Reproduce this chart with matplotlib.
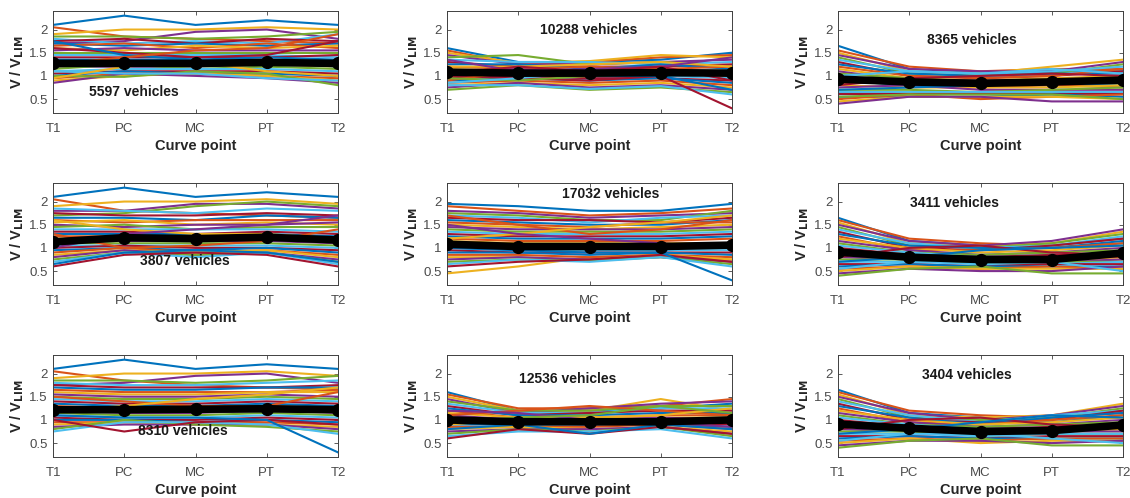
import matplotlib
matplotlib.use("Agg")
import matplotlib.pyplot as plt

plt.rcParams['font.family'] = ['Liberation Sans', 'DejaVu Sans']

points = ["T1", "PC", "MC", "PT", "T2"]
counts = ["5597 vehicles", "10288 vehicles", "8365 vehicles",
          "3807 vehicles", "17032 vehicles", "3411 vehicles",
          "8310 vehicles", "12536 vehicles", "3404 vehicles"]

mean_1 = [1.27, 1.27, 1.27, 1.29, 1.27]
mean_2 = [1.08, 1.06, 1.06, 1.07, 1.06]
mean_3 = [0.93, 0.87, 0.84, 0.87, 0.91]
mean_4 = [1.13, 1.22, 1.20, 1.23, 1.17]
mean_5 = [1.08, 1.03, 1.03, 1.03, 1.06]
mean_6 = [0.91, 0.80, 0.75, 0.75, 0.89]
mean_7 = [1.22, 1.22, 1.23, 1.24, 1.22]
mean_8 = [1.00, 0.96, 0.96, 0.96, 1.00]
mean_9 = [0.91, 0.82, 0.75, 0.77, 0.89]

veh_1 = [
    [2.10, 2.30, 2.10, 2.20, 2.10], [2.05, 1.85, 1.80, 1.75, 1.70], [1.90, 2.00, 2.00, 2.05, 2.00],
    [1.70, 1.75, 1.95, 2.00, 1.80], [1.85, 1.85, 1.80, 1.85, 1.95], [1.80, 1.70, 1.75, 1.70, 1.90],
    [1.75, 1.80, 1.70, 1.80, 1.75], [1.70, 1.65, 1.70, 1.65, 1.70], [1.65, 1.70, 1.60, 1.70, 1.60],
    [1.60, 1.55, 1.65, 1.60, 1.65], [1.55, 1.60, 1.55, 1.55, 1.55], [1.50, 1.50, 1.50, 1.50, 1.50],
    [1.45, 1.45, 1.45, 1.45, 1.40], [1.40, 1.40, 1.40, 1.40, 1.45], [1.35, 1.35, 1.35, 1.40, 1.35],
    [1.30, 1.30, 1.30, 1.30, 1.30], [1.25, 1.30, 1.25, 1.25, 1.20], [1.20, 1.20, 1.20, 1.25, 1.25],
    [1.15, 1.25, 1.15, 1.20, 1.15], [1.10, 1.15, 1.15, 1.15, 1.10], [1.05, 1.10, 1.10, 1.10, 1.05],
    [1.00, 1.10, 1.05, 1.05, 1.00], [0.95, 1.05, 1.05, 1.00, 0.95], [0.90, 1.00, 1.05, 1.00, 0.90],
    [0.85, 1.05, 1.00, 0.95, 0.85], [1.00, 0.98, 1.10, 1.05, 0.80], [1.10, 1.05, 1.05, 0.95, 0.90],
    [1.60, 1.50, 1.40, 1.45, 1.75], [1.75, 1.45, 1.35, 1.30, 1.20], [1.25, 1.40, 1.55, 1.60, 1.90],
    [0.95, 1.20, 1.30, 1.10, 1.00],
]
veh_2 = [
    [1.60, 1.30, 1.30, 1.35, 1.50], [1.55, 1.25, 1.30, 1.40, 1.45], [1.50, 1.28, 1.32, 1.45, 1.40],
    [1.45, 1.25, 1.25, 1.30, 1.35], [1.40, 1.45, 1.25, 1.30, 1.20], [1.35, 1.30, 1.30, 1.25, 1.30],
    [1.30, 1.20, 1.20, 1.20, 1.25], [1.25, 1.25, 1.15, 1.25, 1.15], [1.20, 1.15, 1.20, 1.15, 1.20],
    [1.15, 1.10, 1.10, 1.10, 1.10], [1.10, 1.15, 1.05, 1.10, 1.05], [1.05, 1.05, 1.00, 1.05, 1.00],
    [1.00, 1.00, 0.95, 1.00, 0.95], [0.95, 1.00, 0.95, 0.95, 0.90], [0.90, 0.95, 0.90, 0.95, 0.85],
    [0.85, 0.90, 0.85, 0.90, 0.80], [0.80, 0.85, 0.80, 0.85, 0.75], [0.75, 0.85, 0.75, 0.80, 0.70],
    [0.70, 0.80, 0.70, 0.75, 0.65], [0.80, 0.80, 0.72, 0.78, 0.60], [1.00, 0.95, 0.90, 1.00, 0.30],
    [1.10, 1.05, 1.00, 1.00, 0.70], [0.90, 1.10, 1.05, 1.10, 1.00], [1.20, 1.20, 1.25, 1.30, 1.20],
    [1.35, 1.10, 1.15, 1.20, 1.40], [0.95, 0.90, 1.00, 1.05, 1.10], [0.85, 0.95, 1.10, 1.05, 1.05],
    [1.05, 1.20, 1.10, 1.20, 0.90],
]
veh_3 = [
    [1.65, 1.15, 1.05, 1.10, 1.10], [1.55, 1.20, 1.10, 1.15, 1.15], [1.50, 1.10, 1.05, 1.20, 1.35],
    [1.45, 1.15, 1.10, 1.10, 1.30], [1.40, 1.05, 1.00, 1.05, 1.25], [1.35, 1.10, 1.05, 1.10, 1.20],
    [1.30, 1.00, 0.95, 1.00, 1.10], [1.25, 1.05, 1.00, 1.05, 1.05], [1.20, 1.00, 0.95, 1.00, 1.15],
    [1.15, 0.95, 0.90, 0.95, 1.00], [1.10, 0.90, 0.90, 0.90, 0.95], [1.05, 0.95, 0.85, 0.90, 0.90],
    [1.00, 0.85, 0.85, 0.85, 0.85], [0.95, 0.90, 0.80, 0.85, 0.90], [0.90, 0.80, 0.80, 0.80, 0.80],
    [0.85, 0.85, 0.75, 0.80, 0.75], [0.80, 0.75, 0.75, 0.75, 0.80], [0.75, 0.80, 0.70, 0.70, 0.70],
    [0.70, 0.70, 0.65, 0.70, 0.75], [0.65, 0.65, 0.65, 0.65, 0.65], [0.60, 0.60, 0.60, 0.60, 0.60],
    [0.55, 0.55, 0.55, 0.60, 0.55], [0.50, 0.60, 0.50, 0.55, 0.60], [0.45, 0.55, 0.55, 0.55, 0.50],
    [0.40, 0.55, 0.55, 0.45, 0.45], [0.55, 0.60, 0.60, 0.60, 0.50], [1.00, 1.10, 1.05, 1.15, 1.05],
    [0.80, 0.95, 1.00, 1.05, 1.00], [0.70, 0.75, 0.80, 0.90, 0.95],
]
veh_4 = [
    [2.10, 2.30, 2.10, 2.20, 2.10], [2.05, 1.80, 1.75, 1.70, 1.65], [1.90, 2.00, 2.00, 2.05, 1.95],
    [1.80, 1.80, 1.95, 1.95, 1.85], [1.70, 1.75, 1.90, 2.00, 1.90], [1.85, 1.80, 1.75, 1.85, 1.80],
    [1.75, 1.70, 1.70, 1.75, 1.70], [1.65, 1.65, 1.60, 1.70, 1.65], [1.60, 1.55, 1.60, 1.60, 1.60],
    [1.55, 1.60, 1.50, 1.55, 1.50], [1.50, 1.45, 1.50, 1.50, 1.55], [1.45, 1.50, 1.40, 1.45, 1.45],
    [1.40, 1.40, 1.40, 1.40, 1.35], [1.35, 1.35, 1.30, 1.35, 1.30], [1.30, 1.30, 1.30, 1.30, 1.25],
    [1.25, 1.25, 1.25, 1.25, 1.20], [1.20, 1.20, 1.20, 1.20, 1.15], [1.15, 1.15, 1.15, 1.15, 1.10],
    [1.10, 1.10, 1.10, 1.10, 1.05], [1.05, 1.05, 1.05, 1.05, 1.00], [1.00, 1.05, 1.00, 1.00, 0.95],
    [0.95, 1.00, 0.95, 1.00, 0.90], [0.90, 1.00, 0.90, 0.95, 0.85], [0.85, 0.95, 0.90, 0.95, 0.80],
    [0.80, 0.95, 0.85, 0.90, 0.75], [0.75, 0.90, 0.85, 0.90, 0.70], [0.70, 0.90, 0.80, 0.90, 0.65],
    [0.60, 0.85, 0.90, 0.85, 0.60], [0.65, 0.90, 0.95, 0.90, 0.70], [1.30, 1.00, 1.05, 1.15, 1.40],
    [1.60, 1.40, 1.30, 1.30, 1.20], [1.00, 1.30, 1.40, 1.50, 1.70],
]
veh_5 = [
    [1.95, 1.90, 1.80, 1.80, 1.95], [1.90, 1.80, 1.70, 1.75, 1.85], [0.45, 0.60, 0.80, 0.85, 0.75],
    [1.80, 1.75, 1.65, 1.70, 1.75], [1.75, 1.70, 1.60, 1.60, 1.80], [1.70, 1.65, 1.55, 1.65, 1.70],
    [1.65, 1.60, 1.60, 1.55, 1.65], [1.60, 1.55, 1.50, 1.50, 1.60], [1.55, 1.50, 1.45, 1.55, 1.55],
    [1.50, 1.45, 1.40, 1.45, 1.50], [1.45, 1.40, 1.40, 1.40, 1.45], [1.40, 1.35, 1.35, 1.35, 1.40],
    [1.35, 1.30, 1.30, 1.30, 1.35], [1.30, 1.25, 1.25, 1.25, 1.30], [1.25, 1.20, 1.20, 1.20, 1.25],
    [1.20, 1.15, 1.15, 1.15, 1.20], [1.15, 1.10, 1.10, 1.10, 1.10], [1.10, 1.05, 1.05, 1.05, 1.05],
    [1.05, 1.00, 1.00, 1.00, 1.00], [1.00, 0.95, 0.95, 0.95, 0.95], [0.95, 0.90, 0.90, 0.90, 0.90],
    [0.90, 0.90, 0.85, 0.90, 0.85], [0.85, 0.85, 0.80, 0.85, 0.80], [0.80, 0.80, 0.75, 0.85, 0.75],
    [0.75, 0.80, 0.75, 0.80, 0.70], [0.70, 0.75, 0.72, 0.80, 0.65], [0.65, 0.75, 0.70, 0.80, 0.60],
    [0.60, 0.70, 0.75, 0.85, 0.70], [1.00, 0.95, 0.90, 0.90, 0.30], [1.70, 1.50, 1.30, 1.40, 1.60],
    [1.20, 1.30, 1.45, 1.55, 1.70], [1.50, 1.30, 1.20, 1.10, 1.00],
]
veh_6 = [
    [1.65, 1.15, 1.05, 1.00, 1.10], [1.60, 1.20, 1.10, 1.05, 1.20], [1.55, 1.10, 1.05, 1.10, 1.35],
    [1.50, 1.15, 1.05, 1.15, 1.40], [1.45, 1.05, 1.00, 1.10, 1.30], [1.40, 1.10, 1.00, 1.05, 1.25],
    [1.35, 1.00, 0.95, 1.05, 1.20], [1.30, 1.05, 1.00, 1.00, 1.15], [1.25, 0.95, 0.95, 1.00, 1.10],
    [1.20, 1.00, 0.90, 0.95, 1.05], [1.15, 0.95, 0.85, 0.90, 1.00], [1.10, 0.90, 0.85, 0.90, 0.95],
    [1.05, 0.90, 0.80, 0.85, 0.90], [1.00, 0.85, 0.80, 0.85, 0.85], [0.95, 0.85, 0.75, 0.80, 0.85],
    [0.90, 0.80, 0.75, 0.75, 0.80], [0.85, 0.80, 0.70, 0.75, 0.75], [0.80, 0.75, 0.70, 0.70, 0.75],
    [0.75, 0.75, 0.65, 0.70, 0.70], [0.70, 0.70, 0.65, 0.65, 0.70], [0.65, 0.65, 0.60, 0.65, 0.65],
    [0.60, 0.65, 0.60, 0.60, 0.60], [0.55, 0.60, 0.55, 0.60, 0.55], [0.50, 0.60, 0.55, 0.55, 0.55],
    [0.45, 0.55, 0.50, 0.50, 0.60], [0.40, 0.55, 0.60, 0.45, 0.45], [0.55, 0.70, 0.75, 0.70, 0.50],
    [0.80, 1.00, 1.05, 0.90, 0.85], [0.70, 0.80, 0.95, 1.00, 1.05],
]
veh_7 = [
    [2.10, 2.30, 2.10, 2.20, 2.10], [2.05, 1.85, 1.75, 1.70, 1.65], [1.90, 2.00, 2.00, 2.05, 1.95],
    [1.75, 1.80, 1.95, 2.00, 1.80], [1.85, 1.85, 1.80, 1.85, 1.95], [1.80, 1.75, 1.75, 1.80, 1.85],
    [1.75, 1.70, 1.70, 1.70, 1.75], [1.70, 1.65, 1.65, 1.70, 1.70], [1.65, 1.60, 1.60, 1.60, 1.65],
    [1.60, 1.55, 1.55, 1.60, 1.60], [1.55, 1.50, 1.50, 1.55, 1.50], [1.50, 1.45, 1.45, 1.50, 1.45],
    [1.45, 1.40, 1.40, 1.45, 1.40], [1.40, 1.35, 1.35, 1.40, 1.35], [1.35, 1.30, 1.30, 1.35, 1.30],
    [1.30, 1.25, 1.25, 1.30, 1.25], [1.25, 1.20, 1.20, 1.25, 1.20], [1.20, 1.15, 1.15, 1.20, 1.15],
    [1.15, 1.10, 1.10, 1.15, 1.10], [1.10, 1.05, 1.05, 1.10, 1.05], [1.05, 1.00, 1.00, 1.05, 1.00],
    [1.00, 1.00, 0.95, 1.00, 0.95], [0.95, 0.95, 0.95, 0.95, 0.90], [0.90, 0.95, 0.90, 0.90, 0.85],
    [0.85, 0.90, 0.90, 0.90, 0.80], [0.80, 1.00, 0.90, 0.85, 0.75], [0.75, 0.95, 0.95, 0.90, 0.70],
    [1.00, 0.75, 0.95, 1.00, 0.90], [1.10, 1.05, 1.05, 1.00, 0.30], [1.50, 1.40, 1.30, 1.30, 1.60],
    [1.20, 1.30, 1.45, 1.55, 1.70],
]
veh_8 = [
    [1.60, 1.20, 1.20, 1.25, 1.35], [1.55, 1.25, 1.25, 1.30, 1.45], [1.50, 1.20, 1.20, 1.45, 1.20],
    [1.45, 1.15, 1.25, 1.35, 1.40], [1.40, 1.20, 1.20, 1.30, 1.30], [1.35, 1.15, 1.15, 1.25, 1.25],
    [1.30, 1.10, 1.15, 1.20, 1.20], [1.25, 1.10, 1.10, 1.15, 1.15], [1.20, 1.05, 1.05, 1.10, 1.10],
    [1.15, 1.05, 1.05, 1.05, 1.05], [1.10, 1.00, 1.00, 1.05, 1.00], [1.05, 1.00, 0.95, 1.00, 0.95],
    [1.00, 0.95, 0.95, 0.95, 0.95], [0.95, 0.95, 0.90, 0.95, 0.90], [0.90, 0.90, 0.90, 0.90, 0.85],
    [0.85, 0.85, 0.85, 0.90, 0.80], [0.80, 0.85, 0.80, 0.85, 0.75], [0.75, 0.80, 0.80, 0.85, 0.70],
    [0.70, 0.80, 0.75, 0.85, 0.65], [0.65, 0.75, 0.75, 0.80, 0.60], [0.60, 0.80, 0.70, 0.85, 0.70],
    [0.80, 0.90, 0.70, 0.90, 0.80], [1.10, 1.20, 1.30, 1.20, 1.10], [0.90, 1.00, 1.05, 1.10, 1.25],
    [1.20, 1.15, 1.00, 0.95, 0.85], [0.95, 1.05, 1.10, 1.30, 1.15],
]
veh_9 = [
    [1.65, 1.15, 1.05, 0.95, 1.10], [1.60, 1.20, 1.10, 1.05, 1.15], [1.55, 1.10, 1.05, 1.10, 1.35],
    [1.50, 1.15, 1.00, 1.10, 1.30], [1.45, 1.05, 1.00, 1.05, 1.25], [1.40, 1.10, 0.95, 1.10, 1.20],
    [1.35, 1.00, 0.95, 1.00, 1.20], [1.30, 1.05, 0.90, 1.05, 1.15], [1.25, 0.95, 0.90, 1.00, 1.10],
    [1.20, 1.00, 0.90, 0.95, 1.05], [1.15, 0.95, 0.85, 0.90, 1.00], [1.10, 0.90, 0.85, 0.90, 0.95],
    [1.05, 0.90, 0.80, 0.85, 0.90], [1.00, 0.85, 0.80, 0.85, 0.90], [0.95, 0.85, 0.75, 0.80, 0.85],
    [0.90, 0.80, 0.75, 0.80, 0.80], [0.85, 0.80, 0.70, 0.75, 0.80], [0.80, 0.75, 0.70, 0.75, 0.75],
    [0.75, 0.75, 0.65, 0.70, 0.70], [0.70, 0.70, 0.65, 0.70, 0.70], [0.65, 0.65, 0.60, 0.65, 0.65],
    [0.60, 0.65, 0.60, 0.60, 0.60], [0.55, 0.60, 0.55, 0.60, 0.60], [0.50, 0.60, 0.50, 0.55, 0.55],
    [0.45, 0.55, 0.55, 0.50, 0.55], [0.40, 0.55, 0.60, 0.45, 0.45], [0.55, 0.70, 0.70, 0.60, 0.50],
    [0.80, 1.00, 1.05, 0.90, 0.85], [0.70, 0.80, 0.95, 1.10, 1.05],
]

vehicles = [veh_1, veh_2, veh_3, veh_4, veh_5, veh_6, veh_7, veh_8, veh_9]
means = [mean_1, mean_2, mean_3, mean_4, mean_5, mean_6, mean_7, mean_8, mean_9]

# annotation placement (x, y) in data coordinates
label_pos = [(2.14, 0.65), (2.99, 2.0), (2.88, 1.77),
             (2.85, 0.71), (3.30, 2.17), (2.63, 1.96),
             (2.82, 0.76), (2.70, 1.89), (2.81, 1.96)]

matlab_colors = ["#0072BD", "#D95319", "#EDB120", "#7E2F8E",
                 "#77AC30", "#4DBEEE", "#A2142F"]

W, H = 1130, 498
fig = plt.figure(figsize=(W / 100, H / 100), dpi=100)

col_left = [53, 447, 838]
row_top = [11, 183, 355]
ax_w, ax_h = 285, 102

x = list(range(1, 6))
gray = "#404040"
for i in range(9):
    r, c = divmod(i, 3)
    ax = fig.add_axes([col_left[c] / W, 1 - (row_top[r] + ax_h) / H, ax_w / W, ax_h / H])
    for k, line in enumerate(vehicles[i]):
        ax.plot(x, line, color=matlab_colors[k % 7], lw=1.5, zorder=2)
    ax.plot(x, means[i], color="black", lw=5.5, marker="o", markersize=8.5, zorder=5)
    ax.set_xlim(1, 5)
    ax.set_ylim(0.2, 2.4)
    ax.set_xticks(x)
    ax.set_xticklabels(points)
    ax.set_yticks([0.5, 1, 1.5, 2])
    ax.set_yticklabels(["0.5", "1", "1.5", "2"])
    ax.tick_params(direction="in", top=True, right=True, length=3, width=0.6,
                   colors=gray, labelcolor="#4a4a4a", labelsize=9.5)
    ax.tick_params(axis="x", pad=7)
    ax.tick_params(axis="y", pad=4)
    for s in ax.spines.values():
        s.set_color(gray)
        s.set_linewidth(0.7)
    ax.set_xlabel("Curve point", fontsize=10.5, fontweight="bold", color="#262626", labelpad=3)
    ax.set_ylabel("V / V$_{\\mathbf{LIM}}$", fontsize=10.5, fontweight="bold", color="#262626", labelpad=2)
    lx, ly = label_pos[i]
    ax.text(lx, ly, counts[i], ha="center", va="center", fontsize=10,
            fontweight="bold", color="#1a1a1a", zorder=6)

fig.savefig("out.png", dpi=100)
